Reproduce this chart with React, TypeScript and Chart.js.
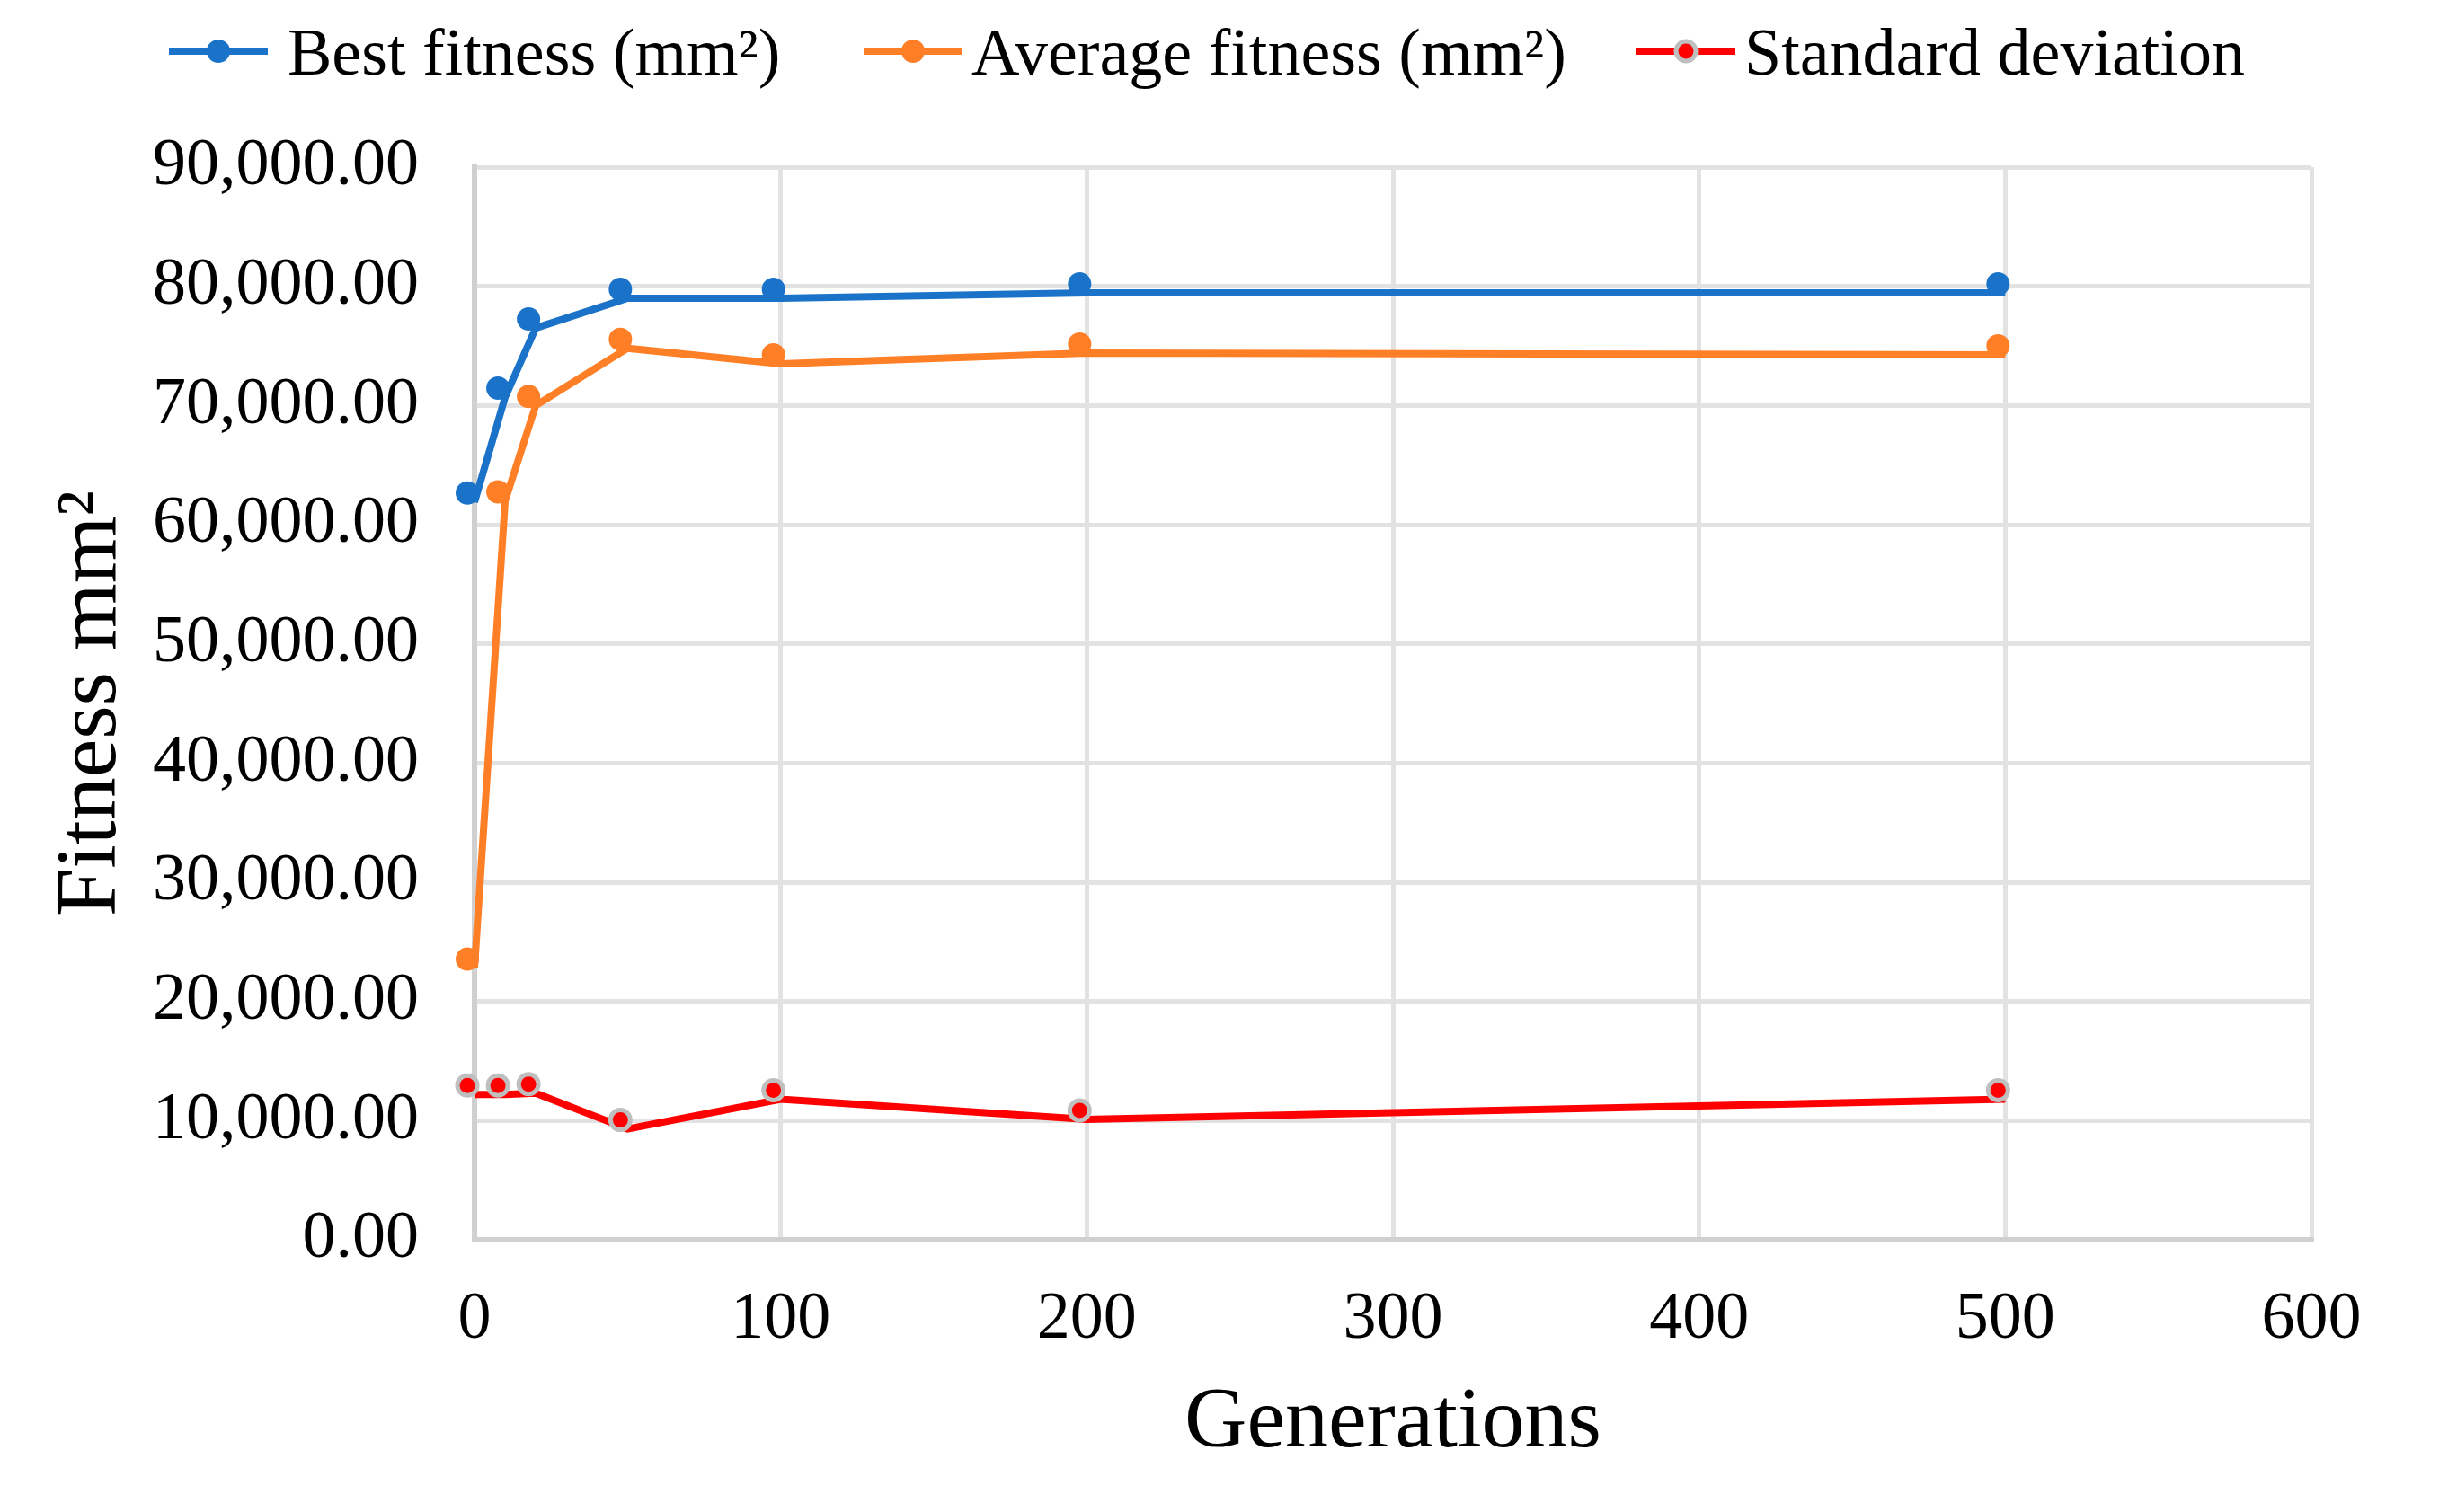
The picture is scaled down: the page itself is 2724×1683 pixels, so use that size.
import React, { useEffect, useRef } from 'react';
import { Chart, registerables } from 'chart.js';

Chart.register(...registerables);

const generations = [0, 10, 20, 50, 100, 200, 500];
const bestFitness = [61900, 70700, 76500, 79000, 79000, 79450, 79450];
const averageFitness = [22800, 62000, 70000, 74800, 73500, 74400, 74250];
const standardDeviation = [12200, 12200, 12300, 9300, 11800, 10100, 11800];
const seriesLabels = ['Best fitness (mm²)', 'Average fitness (mm²)', 'Standard deviation'];
const xTitle = 'Generations';
const yTitle = 'Fitness mm²';

const FONT = '"Liberation Serif", "Times New Roman", serif';

const seriesValues = [bestFitness, averageFitness, standardDeviation];
const seriesStyles = [
  { color: '#1A73C9', markerFill: '#1A73C9', markerBorder: '#1A73C9', markerBorderWidth: 0, radius: 13 },
  { color: '#FF7F27', markerFill: '#FF7F27', markerBorder: '#FF7F27', markerBorderWidth: 0, radius: 13 },
  { color: '#FF0000', markerFill: '#FF0000', markerBorder: '#BFBFBF', markerBorderWidth: 5, radius: 11 },
];
const LINE_WIDTH = 8;

const toPoints = (ys: number[]) => generations.map((x, i) => ({ x, y: ys[i] }));

// Excel renders the markers slightly up-left of the line vertices
const markerShiftPlugin = {
  id: 'markerShift',
  beforeDatasetDraw(chart: any, args: any) {
    const ds = chart.data.datasets[args.index];
    if (ds.isMarker) {
      chart.ctx.save();
      chart.ctx.translate(-8, -10);
    }
  },
  afterDatasetDraw(chart: any, args: any) {
    const ds = chart.data.datasets[args.index];
    if (ds.isMarker) chart.ctx.restore();
  },
};

const legendPlugin = {
  id: 'customLegend',
  afterDraw(chart: any) {
    const ctx = chart.ctx as CanvasRenderingContext2D;
    const starts = [188, 961, 1821];
    const lineLen = 110;
    const y = 57;
    ctx.save();
    ctx.font = `74px ${FONT}`;
    seriesLabels.forEach((label, i) => {
      const st = seriesStyles[i];
      const x = starts[i];
      ctx.strokeStyle = st.color;
      ctx.lineWidth = LINE_WIDTH;
      ctx.beginPath();
      ctx.moveTo(x, y);
      ctx.lineTo(x + lineLen, y);
      ctx.stroke();
      ctx.beginPath();
      ctx.arc(x + lineLen / 2, y, st.radius, 0, Math.PI * 2);
      ctx.fillStyle = st.markerFill;
      ctx.fill();
      if (st.markerBorderWidth) {
        ctx.lineWidth = st.markerBorderWidth;
        ctx.strokeStyle = st.markerBorder;
        ctx.stroke();
      }
      ctx.fillStyle = '#000';
      ctx.textAlign = 'left';
      ctx.textBaseline = 'alphabetic';
      ctx.fillText(label, x + lineLen + (i === 0 ? 22 : 10), y + 26);
    });
    ctx.restore();
  },
};

export default function App() {
  const ref = useRef<HTMLCanvasElement | null>(null);

  useEffect(() => {
    document.body.style.margin = '0';
    const canvas = ref.current;
    if (!canvas) return;

    const lineSets = seriesLabels.map((label, i) => ({
      label,
      data: toPoints(seriesValues[i]),
      borderColor: seriesStyles[i].color,
      backgroundColor: seriesStyles[i].color,
      borderWidth: LINE_WIDTH,
      pointRadius: 0,
      tension: 0,
      order: 1,
      clip: false as any,
    }));
    const markerSets = seriesLabels.map((label, i) => ({
      label: label + ' markers',
      isMarker: true,
      data: toPoints(seriesValues[i]),
      showLine: false,
      borderColor: seriesStyles[i].color,
      backgroundColor: seriesStyles[i].markerFill,
      pointBackgroundColor: seriesStyles[i].markerFill,
      pointBorderColor: seriesStyles[i].markerBorder,
      pointBorderWidth: seriesStyles[i].markerBorderWidth,
      pointRadius: seriesStyles[i].radius,
      order: 0,
      clip: false as any,
    }));

    const chart = new Chart(canvas, {
      type: 'line',
      data: { datasets: [...lineSets, ...markerSets] as any },
      options: {
        responsive: false,
        animation: false,
        devicePixelRatio: 1,
        layout: { padding: { top: 186, right: 152, bottom: 0, left: 0 } },
        plugins: {
          legend: { display: false },
          tooltip: { enabled: false },
        },
        scales: {
          x: {
            type: 'linear',
            min: 0,
            max: 600,
            ticks: {
              stepSize: 100,
              padding: 45,
              color: '#000',
              font: { family: FONT, size: 74 },
            },
            grid: { color: '#E2E2E2', lineWidth: 5, drawTicks: false },
            border: { color: '#D0D0D0', width: 6 },
            title: {
              display: true,
              text: xTitle,
              color: '#000',
              font: { family: FONT, size: 96 },
              padding: { top: 0, bottom: 41 },
            },
            afterFit: (scale: any) => {
              scale.height = 1683 - 1380;
            },
          },
          y: {
            type: 'linear',
            min: 0,
            max: 90000,
            ticks: {
              stepSize: 10000,
              padding: 62,
              color: '#000',
              font: { family: FONT, size: 74 },
              callback: (v: any) =>
                Number(v).toLocaleString('en-US', { minimumFractionDigits: 2, maximumFractionDigits: 2 }),
            },
            grid: { color: '#E2E2E2', lineWidth: 5, drawTicks: false },
            border: { color: '#D0D0D0', width: 6 },
            title: {
              display: true,
              text: yTitle,
              color: '#000',
              font: { family: FONT, size: 96 },
              padding: { top: 45, bottom: 0 },
            },
            afterFit: (scale: any) => {
              scale.width = 528;
            },
          },
        },
      },
      plugins: [markerShiftPlugin, legendPlugin],
    });
    return () => chart.destroy();
  }, []);

  return (
    <div style={{ position: 'absolute', left: 0, top: 0, width: 2724, height: 1683, background: '#fff' }}>
      <canvas ref={ref} width={2724} height={1683} style={{ width: 2724, height: 1683 }} />
    </div>
  );
}
